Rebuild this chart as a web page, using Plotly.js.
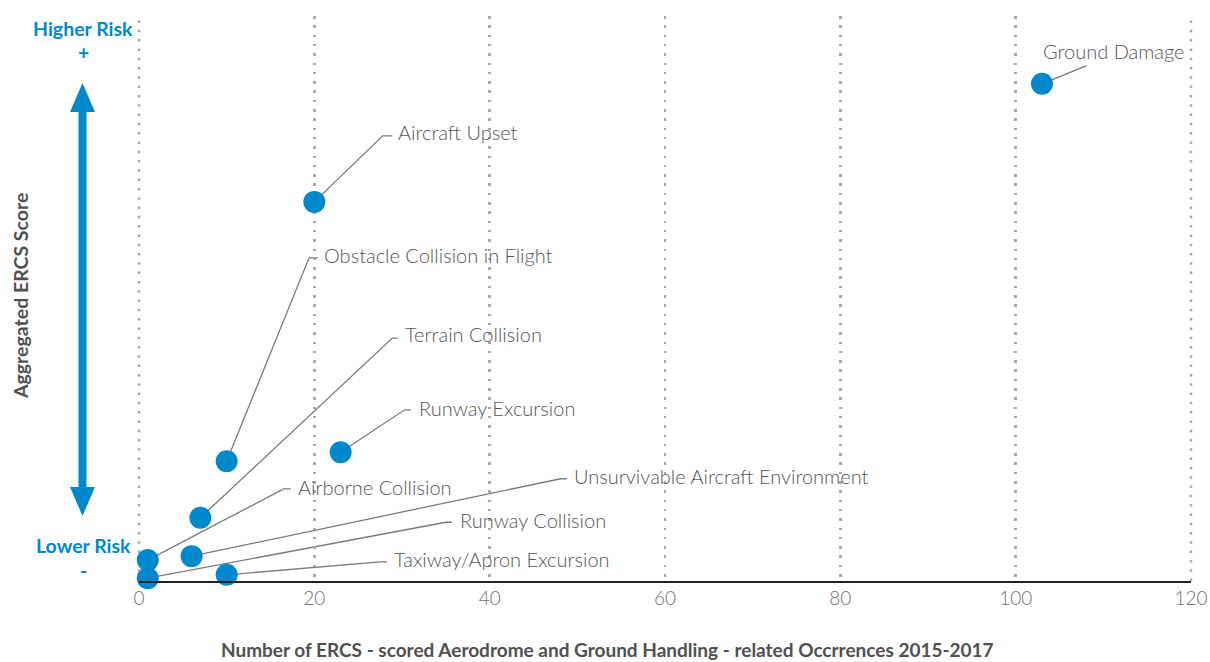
<!DOCTYPE html>
<html>
<head>
<meta charset="utf-8">
<script src="https://cdn.plot.ly/plotly-3.0.1.min.js"></script>
<style>html,body{margin:0;padding:0;background:#fff;}#chart{width:1210px;height:662px;}</style>
</head>
<body>
<div id="chart"></div>
<script>
// ---- data ----
var categories = ["Ground Damage","Aircraft Upset","Obstacle Collision in Flight","Terrain Collision","Runway Excursion","Airborne Collision","Unsurvivable Aircraft Environment","Runway Collision","Taxiway/Apron Excursion"];
var occurrences = [103, 20, 10, 7, 23, 1, 6, 1, 10];
var ercsScore = [88.0, 67.1, 21.2, 11.2, 22.8, 3.7, 4.4, 0.5, 1.1];
var xTicks = [0, 20, 40, 60, 80, 100, 120];

// ---- label placement (layout, in axis units) ----
var elbowX = [108.1, 27.8, 19.4, 28.9, 30.3, 16.5, 48.1, 35.0, 27.5];
var elbowY = [91.2, 78.8, 57.2, 43.0, 30.3, 16.3, 18.1, 10.4, 3.4];
var tailX  = [108.1, 28.9, 20.4, 29.5, 31.0, 17.3, 48.8, 35.7, 28.3];
var textX  = [102.9, 29.3, 20.9, 30.1, 31.7, 17.9, 49.4, 36.4, 28.9];
var textY  = [93.8, 79.5, 57.7, 43.7, 30.6, 16.6, 18.6, 10.8, 3.9];

var BLUE = "#0088cc";
var FAM = "Lato, 'Open Sans', sans-serif";
var LABEL_FONT = {family: FAM, size: 20, color: "#555555", weight: 300};

// plot area geometry helpers (for decorations outside the plot area)
var W = 1210, H = 662, L = 139, R = 19, T = 16, B = 81;
function pxX(px){ return (px - L) / (W - L - R); }
function pxY(py){ return (H - B - py) / (H - T - B); }

var GRID_DASH = "2.5px,6.8px";
var shapes = [];
var annotations = [];

// edge gridlines (Plotly omits grid lines at the range ends); paper refs avoid clipping
[0, 1].forEach(function (v) {
  shapes.push({type: "line", xref: "paper", yref: "paper", x0: v, x1: v, y0: 0, y1: 1, layer: "below",
    line: {color: "#a8a8a8", width: 2.5, dash: GRID_DASH}});
});

for (var i = 0; i < categories.length; i++) {
  shapes.push({
    type: "path", xref: "x", yref: "y", layer: "below",
    path: "M" + occurrences[i] + "," + ercsScore[i] + " L" + elbowX[i] + "," + elbowY[i] + " L" + tailX[i] + "," + elbowY[i],
    line: {color: "#7a7a7a", width: 1.3}
  });
  annotations.push({
    xref: "x", yref: "y", x: textX[i], y: textY[i], text: categories[i],
    showarrow: false, xanchor: "left", yanchor: "middle", font: LABEL_FONT
  });
}

// double-headed risk arrow
var ax = 82.5;
shapes.push({type: "rect", xref: "paper", yref: "paper", x0: pxX(ax - 4), x1: pxX(ax + 4), y0: pxY(490), y1: pxY(108), fillcolor: BLUE, line: {width: 0}});
shapes.push({type: "path", xref: "paper", yref: "paper",
  path: "M" + pxX(ax) + "," + pxY(83) + " L" + pxX(ax - 12.5) + "," + pxY(112) + " L" + pxX(ax + 12.5) + "," + pxY(112) + " Z",
  fillcolor: BLUE, line: {width: 0}});
shapes.push({type: "path", xref: "paper", yref: "paper",
  path: "M" + pxX(ax) + "," + pxY(516) + " L" + pxX(ax - 12.5) + "," + pxY(487) + " L" + pxX(ax + 12.5) + "," + pxY(487) + " Z",
  fillcolor: BLUE, line: {width: 0}});

var riskFont = {family: FAM, size: 19.5, color: BLUE, weight: 700};
annotations.push({xref: "paper", yref: "paper", x: pxX(83), y: pxY(28), text: "Higher Risk", showarrow: false, xanchor: "center", yanchor: "middle", font: riskFont});
annotations.push({xref: "paper", yref: "paper", x: pxX(83), y: pxY(52), text: "+", showarrow: false, xanchor: "center", yanchor: "middle", font: riskFont});
annotations.push({xref: "paper", yref: "paper", x: pxX(83), y: pxY(545), text: "Lower Risk", showarrow: false, xanchor: "center", yanchor: "middle", font: riskFont});
annotations.push({xref: "paper", yref: "paper", x: pxX(83), y: pxY(570), text: "-", showarrow: false, xanchor: "center", yanchor: "middle", font: riskFont});

// axis titles
annotations.push({xref: "paper", yref: "paper", x: pxX(607.5), y: pxY(649),
  text: "Number of ERCS - scored Aerodrome and Ground Handling - related Occrrences 2015-2017",
  showarrow: false, xanchor: "center", yanchor: "middle",
  font: {family: FAM, size: 19, color: "#505050", weight: 700}});
annotations.push({xref: "paper", yref: "paper", x: pxX(20), y: pxY(296), textangle: -90,
  text: "Aggregated ERCS Score", showarrow: false, xanchor: "center", yanchor: "middle",
  font: {family: FAM, size: 19.5, color: "#505050", weight: 700}});

var trace = {
  type: "scatter", mode: "markers",
  x: occurrences, y: ercsScore, text: categories,
  marker: {size: 22, color: BLUE, line: {width: 0}},
  hoverinfo: "text", cliponaxis: false
};

var layout = {
  width: W, height: H,
  margin: {l: L, r: R, t: T, b: B},
  paper_bgcolor: "#fff", plot_bgcolor: "#fff",
  showlegend: false,
  xaxis: {
    range: [0, 120], tickvals: xTicks, ticktext: xTicks.map(String),
    showgrid: true, gridcolor: "#a8a8a8", gridwidth: 2.5, griddash: GRID_DASH,
    zeroline: false, showline: true, linecolor: "#222", linewidth: 1.5,
    ticks: "", tickfont: {family: FAM, size: 19, color: "#707070", weight: 300},
    fixedrange: true
  },
  yaxis: {
    range: [0, 100], showgrid: false, zeroline: false, showline: false,
    showticklabels: false, ticks: "", fixedrange: true
  },
  shapes: shapes,
  annotations: annotations
};

Plotly.newPlot("chart", [trace], layout, {displayModeBar: false, staticPlot: true});
</script>
</body>
</html>
